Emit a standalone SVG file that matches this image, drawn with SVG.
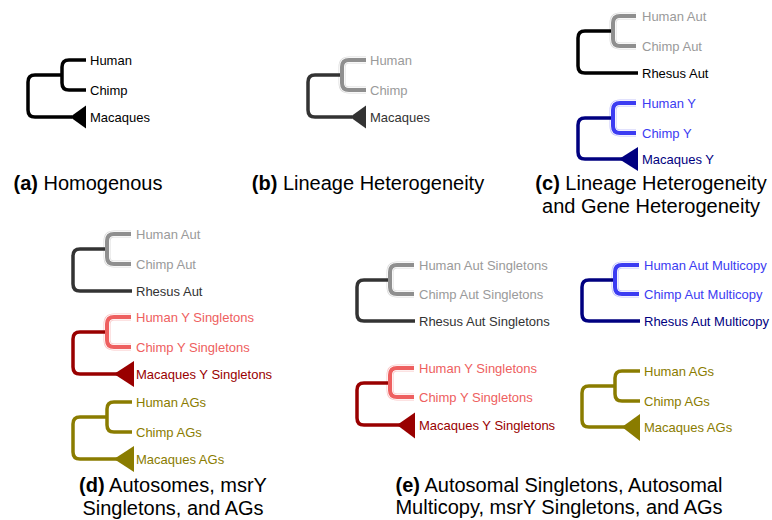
<svg xmlns="http://www.w3.org/2000/svg" width="772" height="520" viewBox="0 0 772 520">
<defs>
<style>
.ln{fill:none;stroke-width:3.5;stroke-linejoin:round}
.hl1{fill:none;stroke-width:7;stroke-linejoin:round}
.hl2{fill:none;stroke-width:5.5;stroke:#fff;stroke-linejoin:round}
.in{fill:none;stroke-width:4;stroke-linejoin:round}
text{font-family:"Liberation Sans",Arial,sans-serif}
.lb{font-size:13px}
.cap{font-size:20px;text-anchor:middle;fill:#000}
.cap tspan.b{font-weight:bold}
.gr{stroke:#8f8f8f}.grh{stroke:#dcdcdc}.grt{fill:#9a9a9a}
.bk{stroke:#000}.bkf{fill:#000}
.dg{stroke:#333}.dgf{fill:#333}
.bl{stroke:#3c3cf2}.blh{stroke:#c4c4fb}.blt{fill:#3c3cf2}
.nv{stroke:#000080}.nvf{fill:#000080}
.rd{stroke:#ee6060}.rdh{stroke:#f9c6c6}.rdt{fill:#ee6060}
.dr{stroke:#990000}.drf{fill:#990000}
.ol{stroke:#8a7c00}.olf{fill:#8a7c00}
</style>
</defs>
<rect width="772" height="520" fill="#fff"/>

<!-- (a) -->
<g id="tree-a">
<g class="connectors">
<path class="ln bk" d="M86 60 H69 Q62 60 62 67 V83 Q62 90 69 90 H86"/>
<path class="ln bk" d="M62 75 H35 Q28 75 28 82 V110 Q28 117 35 117 H72"/>
</g>
<path class="bkf" d="M70 117 L86 105.5 L86 128.5 Z"/>
<text class="lb" x="90" y="64.5">Human</text>
<text class="lb" x="90" y="94.5">Chimp</text>
<text class="lb" x="90" y="121.5">Macaques</text>
</g>

<!-- (b) -->
<g id="tree-b">
<g class="connectors">
<path class="hl1 grh" d="M366 60 H349 Q342 60 342 67 V83 Q342 90 349 90 H366"/>
<path class="hl2" d="M366 60 H349 Q342 60 342 67 V83 Q342 90 349 90 H366"/>
<path class="in gr" d="M366 60 H349 Q342 60 342 67 V83 Q342 90 349 90 H366"/>
<path class="ln dg" d="M340 75 H315 Q308 75 308 82 V110 Q308 117 315 117 H352"/>
</g>
<path class="dgf" d="M350 117 L366 105.5 L366 128.5 Z"/>
<text class="lb grt" x="370" y="64.5">Human</text>
<text class="lb grt" x="370" y="94.5">Chimp</text>
<text class="lb dgf" x="370" y="121.5">Macaques</text>
</g>

<!-- (c) upper -->
<g id="tree-c1">
<g class="connectors">
<path class="hl1 grh" d="M636 16 H620 Q613 16 613 23 V39 Q613 46 620 46 H636"/>
<path class="hl2" d="M636 16 H620 Q613 16 613 23 V39 Q613 46 620 46 H636"/>
<path class="in gr" d="M636 16 H620 Q613 16 613 23 V39 Q613 46 620 46 H636"/>
<path class="ln bk" d="M611 31 H585 Q578 31 578 38 V66 Q578 73 585 73 H638"/>
</g>
<text class="lb grt" x="642" y="20.5">Human Aut</text>
<text class="lb grt" x="642" y="50.5">Chimp Aut</text>
<text class="lb bkf" x="642" y="77.5">Rhesus Aut</text>
</g>

<!-- (c) lower -->
<g id="tree-c2">
<g class="connectors">
<path class="hl1 blh" d="M636 103 H620 Q613 103 613 110 V126 Q613 133 620 133 H636"/>
<path class="hl2" d="M636 103 H620 Q613 103 613 110 V126 Q613 133 620 133 H636"/>
<path class="in bl" d="M636 103 H620 Q613 103 613 110 V126 Q613 133 620 133 H636"/>
<path class="ln nv" d="M611 118 H585 Q578 118 578 125 V152 Q578 159 585 159 H622"/>
</g>
<path class="nvf" d="M619 159 L638 147 L638 171 Z"/>
<text class="lb blt" x="642" y="107.5">Human Y</text>
<text class="lb blt" x="642" y="137.5">Chimp Y</text>
<text class="lb nvf" x="642" y="163.5">Macaques Y</text>
</g>

<!-- (d) upper -->
<g id="tree-d1">
<g class="connectors">
<path class="hl1 grh" d="M131 234 H114 Q107 234 107 241 V257 Q107 264 114 264 H131"/>
<path class="hl2" d="M131 234 H114 Q107 234 107 241 V257 Q107 264 114 264 H131"/>
<path class="in gr" d="M131 234 H114 Q107 234 107 241 V257 Q107 264 114 264 H131"/>
<path class="ln dg" d="M105 249 H80 Q73 249 73 256 V284 Q73 291 80 291 H132"/>
</g>
<text class="lb grt" x="136" y="238.5">Human Aut</text>
<text class="lb grt" x="136" y="268.5">Chimp Aut</text>
<text class="lb dgf" x="136" y="295.5">Rhesus Aut</text>
</g>

<!-- (d) middle -->
<g id="tree-d2">
<g class="connectors">
<path class="hl1 rdh" d="M131 317 H114 Q107 317 107 324 V340 Q107 347 114 347 H131"/>
<path class="hl2" d="M131 317 H114 Q107 317 107 324 V340 Q107 347 114 347 H131"/>
<path class="in rd" d="M131 317 H114 Q107 317 107 324 V340 Q107 347 114 347 H131"/>
<path class="ln dr" d="M105 332 H80 Q73 332 73 339 V367 Q73 374 80 374 H117"/>
</g>
<path class="drf" d="M114 374 L134 361 L134 387 Z"/>
<text class="lb rdt" x="136" y="321.5">Human Y Singletons</text>
<text class="lb rdt" x="136" y="351.5">Chimp Y Singletons</text>
<text class="lb drf" x="136" y="378.5">Macaques Y Singletons</text>
</g>

<!-- (d) lower -->
<g id="tree-d3">
<g class="connectors">
<path class="ln ol" d="M132 402 H114 Q107 402 107 409 V425 Q107 432 114 432 H132"/>
<path class="ln ol" d="M107 417 H80 Q73 417 73 424 V452 Q73 459 80 459 H117"/>
</g>
<path class="olf" d="M114 459 L134 446 L134 472 Z"/>
<text class="lb olf" x="136" y="406.5">Human AGs</text>
<text class="lb olf" x="136" y="436.5">Chimp AGs</text>
<text class="lb olf" x="136" y="463.5">Macaques AGs</text>
</g>

<!-- (e) left upper -->
<g id="tree-e1">
<g class="connectors">
<path class="hl1 grh" d="M414 265 H397 Q390 265 390 272 V287 Q390 294 397 294 H414"/>
<path class="hl2" d="M414 265 H397 Q390 265 390 272 V287 Q390 294 397 294 H414"/>
<path class="in gr" d="M414 265 H397 Q390 265 390 272 V287 Q390 294 397 294 H414"/>
<path class="ln dg" d="M388 280 H364 Q357 280 357 287 V314 Q357 321 364 321 H415"/>
</g>
<text class="lb grt" x="419" y="269.5">Human Aut Singletons</text>
<text class="lb grt" x="419" y="298.5">Chimp Aut Singletons</text>
<text class="lb dgf" x="419" y="325.5">Rhesus Aut Singletons</text>
</g>

<!-- (e) left lower -->
<g id="tree-e2">
<g class="connectors">
<path class="hl1 rdh" d="M414 368 H397 Q390 368 390 375 V390 Q390 397 397 397 H414"/>
<path class="hl2" d="M414 368 H397 Q390 368 390 375 V390 Q390 397 397 397 H414"/>
<path class="in rd" d="M414 368 H397 Q390 368 390 375 V390 Q390 397 397 397 H414"/>
<path class="ln dr" d="M388 383 H364 Q357 383 357 390 V418 Q357 425 364 425 H400"/>
</g>
<path class="drf" d="M397 425 L415 412.5 L415 438.5 Z"/>
<text class="lb rdt" x="419" y="372.5">Human Y Singletons</text>
<text class="lb rdt" x="419" y="401.5">Chimp Y Singletons</text>
<text class="lb drf" x="419" y="429.5">Macaques Y Singletons</text>
</g>

<!-- (e) right upper -->
<g id="tree-e3">
<g class="connectors">
<path class="hl1 blh" d="M639 265 H622 Q615 265 615 272 V287 Q615 294 622 294 H639"/>
<path class="hl2" d="M639 265 H622 Q615 265 615 272 V287 Q615 294 622 294 H639"/>
<path class="in bl" d="M639 265 H622 Q615 265 615 272 V287 Q615 294 622 294 H639"/>
<path class="ln nv" d="M613 280 H589 Q582 280 582 287 V314 Q582 321 589 321 H640"/>
</g>
<text class="lb blt" x="644" y="269.5">Human Aut Multicopy</text>
<text class="lb blt" x="644" y="298.5">Chimp Aut Multicopy</text>
<text class="lb nvf" x="644" y="325.5">Rhesus Aut Multicopy</text>
</g>

<!-- (e) right lower -->
<g id="tree-e4">
<g class="connectors">
<path class="ln ol" d="M640 371 H622 Q615 371 615 378 V394 Q615 401 622 401 H640"/>
<path class="ln ol" d="M615 386 H589 Q582 386 582 393 V420 Q582 427 589 427 H625"/>
</g>
<path class="olf" d="M622 427 L640 414 L640 441 Z"/>
<text class="lb olf" x="644" y="375.5">Human AGs</text>
<text class="lb olf" x="644" y="405.5">Chimp AGs</text>
<text class="lb olf" x="644" y="431.5">Macaques AGs</text>
</g>

<!-- captions -->
<g id="captions">
<text class="cap" x="88" y="190"><tspan class="b">(a)</tspan> Homogenous</text>
<text class="cap" x="368" y="190"><tspan class="b">(b)</tspan> Lineage Heterogeneity</text>
<text class="cap" x="651" y="190"><tspan class="b">(c)</tspan> Lineage Heterogeneity</text>
<text class="cap" x="651" y="213">and Gene Heterogeneity</text>
<text class="cap" x="173" y="492"><tspan class="b">(d)</tspan> Autosomes, msrY</text>
<text class="cap" x="173" y="515">Singletons, and AGs</text>
<text class="cap" x="559" y="492"><tspan class="b">(e)</tspan> Autosomal Singletons, Autosomal</text>
<text class="cap" x="559" y="514">Multicopy, msrY Singletons, and AGs</text>
</g>
</svg>
